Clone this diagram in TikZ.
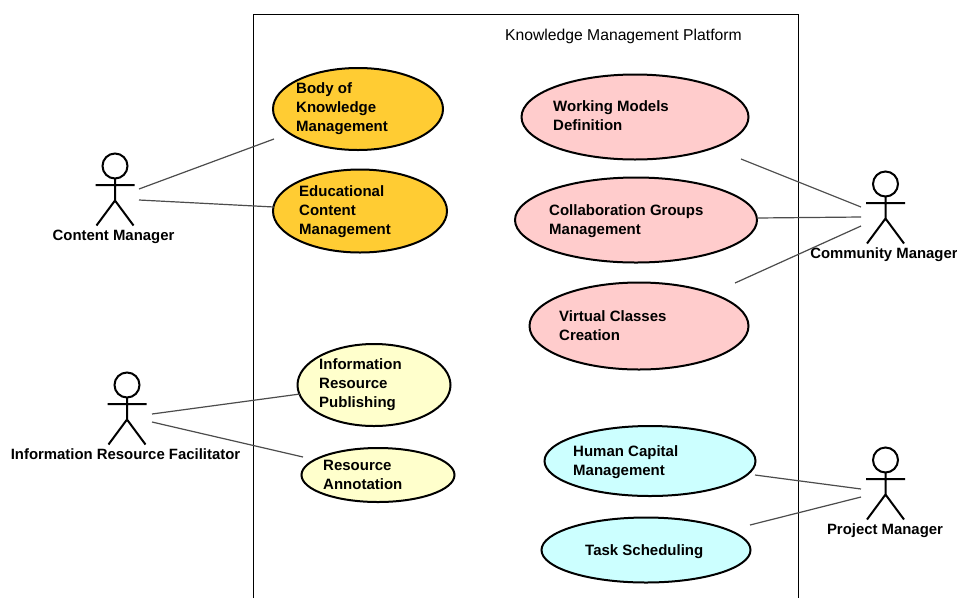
\documentclass[tikz,border=0pt]{standalone}
\usepackage{fontspec}
\setmainfont{Liberation Sans}
\usetikzlibrary{shapes.geometric}
\definecolor{orangeuc}{HTML}{FFCC33}
\definecolor{pinkuc}{HTML}{FFCCCC}
\definecolor{yellowuc}{HTML}{FFFFCC}
\definecolor{cyanuc}{HTML}{CCFFFF}
\tikzset{x=1pt,y=-1pt,
 uc/.style={draw=black,line width=2pt,ellipse,inner sep=0pt},
 uct/.style={font=\fontsize{15}{19}\selectfont\bfseries,align=left,anchor=west,inner sep=0pt},
 lnk/.style={draw=black!70,line width=1.2pt},
 act/.style={draw=black,line width=2pt},
 actl/.style={font=\fontsize{14.9}{18}\selectfont\bfseries,inner sep=0pt}}
\newcommand{\ucase}[6]{% name,cx,cy,w,h,color
 \node[uc,fill=#6,minimum width=#4pt,minimum height=#5pt] (#1) at (#2,#3) {};}
\newcommand{\stick}[3]{% name,hx,hy (head centre)
 \node[draw=black,line width=2pt,circle,minimum size=25pt,inner sep=0pt] (#1h) at (#2,#3) {};
 \coordinate (#1n) at (#2,#3+12.5);
 \coordinate (#1c) at (#2,#3+34.5);
 \coordinate (#1al) at (#2-19.5,#3+19);
 \coordinate (#1ar) at (#2+19.5,#3+19);
 \coordinate (#1fl) at (#2-18.5,#3+59.5);
 \coordinate (#1fr) at (#2+18.5,#3+59.5);
 \draw[act] (#1n) -- (#1c) (#1al) -- (#1ar) (#1fl) -- (#1c) -- (#1fr);}
\begin{document}
\begin{tikzpicture}
\useasboundingbox (0,0) rectangle (957,598);
\fill[white] (0,0) rectangle (957,598);
\coordinate (fa) at (253,598);\coordinate (fb) at (253,14);\coordinate (fc) at (798,14);\coordinate (fd) at (798,598);
\draw[black,line width=1pt] (fa) -- (fb) -- (fc) -- (fd);
\node[font=\fontsize{15.7}{19}\selectfont,anchor=west,inner sep=0pt] (title) at (505,36) {Knowledge Management Platform};
\ucase{a}{358}{109}{170}{82}{orangeuc}
\ucase{b}{360}{211}{174}{83}{orangeuc}
\ucase{c}{635}{117}{227}{85}{pinkuc}
\ucase{d}{636}{220}{242}{85}{pinkuc}
\ucase{e}{639}{326}{219}{87}{pinkuc}
\ucase{f}{374}{385}{153}{82}{yellowuc}
\ucase{g}{378}{475}{153}{54}{yellowuc}
\ucase{h}{650}{461}{211}{70}{cyanuc}
\ucase{i}{646}{550}{209}{65}{cyanuc}
\node[uct] (at) at (296,109) {Body of\\Knowledge\\Management};
\node[uct] (bt) at (299,212) {Educational\\Content\\Management};
\node[uct] (ct) at (553,116) {Working Models\\Definition};
\node[uct] (dt) at (549,221) {Collaboration Groups\\Management};
\node[uct] (et) at (559,326) {Virtual Classes\\Creation};
\node[uct] (ft) at (319,385) {Information\\Resource\\Publishing};
\node[uct] (gt) at (323,475) {Resource\\Annotation};
\node[uct] (ht) at (573,462) {Human Capital\\Management};
\node[uct] (it) at (585,552) {Task Scheduling};
\stick{p}{115}{166}
\stick{q}{127}{385}
\stick{r}{885.5}{184}
\stick{s}{885.5}{460}
\node[actl] (pl) at (113.5,237) {Content Manager};
\node[actl] (ql) at (125.5,454) {Information Resource Facilitator};
\node[actl] (rl) at (884,255) {Community Manager};
\node[actl] (sl) at (885,531) {Project Manager};
\coordinate (p1) at (139,189);\coordinate (p2) at (139,200);
\coordinate (q1) at (152,414);\coordinate (q2) at (152,422);
\coordinate (r1) at (861,207);\coordinate (r2) at (861,217);\coordinate (r3) at (861,226);
\coordinate (s1) at (861,489);\coordinate (s2) at (861,497);
\coordinate (a1) at (274,139);\coordinate (b1) at (274,207);
\coordinate (f1) at (300,394);\coordinate (g1) at (303,457);
\coordinate (c1) at (741,159);\coordinate (d1) at (757,218);\coordinate (e1) at (735,283);
\coordinate (h1) at (755,475);\coordinate (i1) at (750,525);
\draw[lnk] (p1)--(a1) (p2)--(b1) (q1)--(f1) (q2)--(g1) (r1)--(c1) (r2)--(d1) (r3)--(e1) (s1)--(h1) (s2)--(i1);
\end{tikzpicture}
\end{document}
